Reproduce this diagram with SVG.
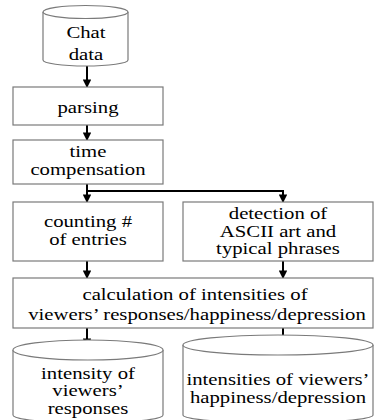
<svg xmlns="http://www.w3.org/2000/svg" width="374" height="420" viewBox="0 0 374 420">
<defs>
<marker id="ah" viewBox="0 0 10 10" refX="10" refY="5" markerWidth="4.5" markerHeight="4.2" markerUnits="strokeWidth" orient="auto">
<path d="M0,0 L10,5 L0,10 z" fill="#000"/>
</marker>
<style>
.box{fill:#fff;stroke:#7a7a7a;stroke-width:1.2}
.t{font-size:17px;fill:#000;text-anchor:middle}
.c{fill:none;stroke:#000;stroke-width:2}
.a{marker-end:url(#ah)}
</style>
</defs>
<rect width="374" height="420" fill="#fff"/>
<g id="connectors">
<path class="c a" d="M87,66 V88"/>
<path class="c a" d="M87,125 V141"/>
<path class="c a" d="M87,184 V203"/>
<path class="c a" d="M87,191 H283 V203"/>
<path class="c a" d="M87,261 V279"/>
<path class="c a" d="M283,261 V279"/>
<path class="c a" d="M87,328 V347"/>
<path class="c a" d="M283,328 V346"/>
</g>
<g id="chat-data">
<path class="box" d="M43,12 V60 A42.5,6 0 0 0 128,60 V12"/>
<ellipse class="box" cx="85.5" cy="12" rx="42.5" ry="6.5"/>
<g transform="scale(1.22,1)" font-family="'Liberation Serif','Times New Roman','DejaVu Serif',serif">
<text class="t" x="70.49" y="38">Chat</text>
<text class="t" x="70.49" y="60">data</text>
</g>
</g>
<g id="parsing">
<rect class="box" x="13" y="87" width="150" height="38"/>
<g transform="scale(1.22,1)" font-family="'Liberation Serif','Times New Roman','DejaVu Serif',serif">
<text class="t" x="72.13" y="113">parsing</text>
</g>
</g>
<g id="time-compensation">
<rect class="box" x="13" y="140" width="150" height="44"/>
<g transform="scale(1.22,1)" font-family="'Liberation Serif','Times New Roman','DejaVu Serif',serif">
<text class="t" x="72.13" y="157">time</text>
<text class="t" x="72.13" y="175">compensation</text>
</g>
</g>
<g id="counting">
<rect class="box" x="13" y="202" width="150" height="59"/>
<g transform="scale(1.22,1)" font-family="'Liberation Serif','Times New Roman','DejaVu Serif',serif">
<text class="t" x="72.13" y="227">counting #</text>
<text class="t" x="72.13" y="245">of entries</text>
</g>
</g>
<g id="detection">
<rect class="box" x="183" y="202" width="190" height="59"/>
<g transform="scale(1.22,1)" font-family="'Liberation Serif','Times New Roman','DejaVu Serif',serif">
<text class="t" x="227.87" y="219">detection of</text>
<text class="t" x="227.87" y="237">ASCII art and</text>
<text class="t" x="227.87" y="254">typical phrases</text>
</g>
</g>
<g id="calculation">
<rect class="box" x="13" y="278" width="360" height="50"/>
<g transform="scale(1.22,1)" font-family="'Liberation Serif','Times New Roman','DejaVu Serif',serif">
<text class="t" x="159.84" y="300">calculation of intensities of</text>
<text class="t" x="161.48" y="320">viewers’ responses/happiness/depression</text>
</g>
</g>
<g id="intensity-responses">
<path class="box" d="M13,350 V415 A75,8 0 0 0 163,415 V350"/>
<ellipse class="box" cx="88" cy="350" rx="75" ry="10"/>
<g transform="scale(1.22,1)" font-family="'Liberation Serif','Times New Roman','DejaVu Serif',serif">
<text class="t" x="72.13" y="379">intensity of</text>
<text class="t" x="72.13" y="396">viewers’</text>
<text class="t" x="72.13" y="414">responses</text>
</g>
</g>
<g id="intensities-happiness">
<path class="box" d="M183,345 V415 A95,8 0 0 0 373,415 V345"/>
<ellipse class="box" cx="278" cy="345" rx="95" ry="10"/>
<g transform="scale(1.22,1)" font-family="'Liberation Serif','Times New Roman','DejaVu Serif',serif">
<text class="t" x="227.87" y="385">intensities of viewers’</text>
<text class="t" x="227.87" y="403">happiness/depression</text>
</g>
</g>
</svg>
